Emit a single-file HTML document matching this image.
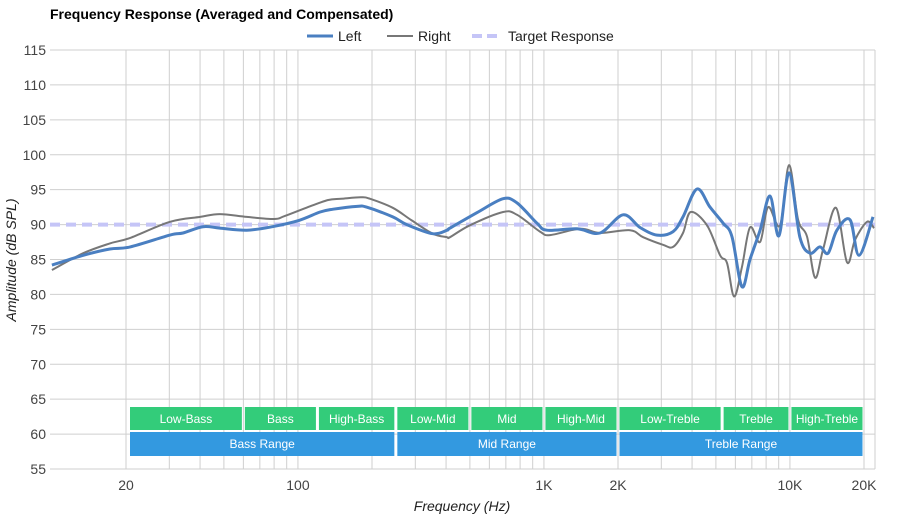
<!DOCTYPE html>
<html><head><meta charset="utf-8"><style>
body{margin:0;background:#fff;font-family:"Liberation Sans",sans-serif;}
svg text{font-family:"Liberation Sans",sans-serif;}
</style></head><body>
<svg id="chart" width="900" height="520" xmlns="http://www.w3.org/2000/svg">
<text x="50" y="19" font-size="14" font-weight="bold" fill="#000">Frequency Response (Averaged and Compensated)</text>
<g>
<g><line x1="307" y1="36" x2="333" y2="36" stroke="#4a7fc1" stroke-width="3"/><text x="338" y="41" font-size="14" fill="#222">Left</text></g>
<g><line x1="387" y1="36" x2="413" y2="36" stroke="#777" stroke-width="2"/><text x="418" y="41" font-size="14" fill="#222">Right</text></g>
<g><line x1="472" y1="36" x2="500" y2="36" stroke="#c5c5f7" stroke-width="4" stroke-dasharray="10,5"/><text x="508" y="41" font-size="14" fill="#222">Target Response</text></g>
</g>
<g id="grid"></g>
<g id="bands"></g>
<g id="series"></g>
<g id="axes"></g>
<text transform="translate(16,260) rotate(-90)" text-anchor="middle" font-size="14" font-style="italic" fill="#222">Amplitude (dB SPL)</text>
<text x="462" y="511" text-anchor="middle" font-size="14" font-style="italic" fill="#222">Frequency (Hz)</text>
</svg>
<script>
const yTicks=[55,60,65,70,75,80,85,90,95,100,105,110,115];
const xGridFreqs=[20,30,40,50,60,70,80,90,100,200,300,400,500,600,700,800,900,1000,2000,3000,4000,5000,6000,7000,8000,9000,10000,20000];
const xTickFreqs=[20,100,1000,2000,10000,20000];
const xTickLabels=["20","100","1K","2K","10K","20K"];
const targetValue=90;
const leftFreqs=[10,13.4,17.2,20.8,30.2,34.1,41.1,48.1,62,78.7,101,123,139,174,190,243,277,353,404,415,534,682,777,937,1028,1362,1690,2096,2456,2885,3350,3676,4190,4730,5350,5810,6380,6880,7560,8300,9020,9910,10980,12060,13240,14290,15520,17540,19100,21760];
const leftValues=[84.2,85.6,86.5,86.8,88.5,88.8,89.7,89.5,89.2,89.7,90.6,91.8,92.2,92.6,92.5,91.1,90,88.7,89.2,89.5,91.7,93.7,93.1,90.2,89.2,89.4,88.8,91.4,89.6,88.5,89.0,91.1,95.1,92.5,90.2,88.3,81.1,85,89.2,94.1,88.4,97.4,88.2,85.9,86.8,85.9,89.2,90.7,85.6,91.1];
const rightFreqs=[10,13.4,17.2,20.8,30.2,40,48.1,62,80,88,108,132,150,180,196,243,290,353,404,415,500,682,777,964,1058,1403,1690,2238,2530,3048,3350,3676,3950,4600,5200,5550,5930,6380,6880,7560,8150,9120,9910,10790,11730,12650,13630,15380,17060,18380,20560,21960];
const rightValues=[83.5,85.9,87.3,88.1,90.4,91.1,91.5,91.1,90.8,91.2,92.4,93.5,93.7,93.9,93.7,92.4,90.6,88.7,88.2,88.2,89.9,91.8,91.4,89.0,88.5,89.4,88.8,89.2,88.2,87.1,86.8,88.8,91.8,89.9,85.6,84.5,79.7,83.9,89.6,87.5,92.5,89.9,98.5,90.7,88.3,82.4,86.4,92.4,84.6,87.8,90.4,89.5];
const bandNames=["Low-Bass","Bass","High-Bass","Low-Mid","Mid","High-Mid","Low-Treble","Treble","High-Treble"];
const bandEdges=[20,60,120,250,500,1000,2000,5300,10000,20000];
const rangeNames=["Bass Range","Mid Range","Treble Range"];
const rangeEdges=[20,250,2000,20000];

const NS="http://www.w3.org/2000/svg";
const L=50,R=875,T=50,B=469;
function xs(f){return 126+246*Math.log10(f/20);}
function ys(v){return T+(115-v)*(B-T)/60;}
function mk(tag,attrs,parent){const e=document.createElementNS(NS,tag);for(const k in attrs)e.setAttribute(k,attrs[k]);parent.appendChild(e);return e;}
const grid=document.getElementById('grid'),axes=document.getElementById('axes'),bands=document.getElementById('bands'),series=document.getElementById('series');
yTicks.forEach(v=>{
 const l=mk('line',{x1:L,x2:R,y1:ys(v),y2:ys(v),stroke:'#cfcfcf','stroke-width':1},grid);
 
 
 const t=mk('text',{x:46,y:ys(v)+5,'text-anchor':'end','font-size':14,fill:'#444'},axes);
 t.textContent=v;
 
 
});
xGridFreqs.forEach(f=>{
 const l=mk('line',{x1:xs(f),x2:xs(f),y1:T,y2:B,stroke:'#cfcfcf','stroke-width':1},grid);
 
 
});
const rl=mk('line',{x1:R,x2:R,y1:T,y2:B,stroke:'#cfcfcf','stroke-width':1},grid);


xTickFreqs.forEach((f,i)=>{
 const t=mk('text',{x:xs(f),y:490,'text-anchor':'middle','font-size':14,fill:'#444'},axes);
 t.textContent=xTickLabels[i];
 
 
});
for(let i=0;i<bandNames.length;i++){
 const x0=xs(bandEdges[i])+(i==0?4:1.5),x1=xs(bandEdges[i+1])-1.5;
 const r=mk('rect',{x:x0,y:407,width:x1-x0,height:23,fill:'#33cc7a'},bands);
 
 
 const t=mk('text',{x:(x0+x1)/2,y:423,'text-anchor':'middle','font-size':12,fill:'#fff'},bands);
 t.textContent=bandNames[i];
 
 
}
for(let i=0;i<rangeNames.length;i++){
 const x0=xs(rangeEdges[i])+(i==0?4:1.5),x1=xs(rangeEdges[i+1])-1.5;
 const r=mk('rect',{x:x0,y:432,width:x1-x0,height:24,fill:'#3399e0'},bands);
 
 
 const t=mk('text',{x:(x0+x1)/2,y:448,'text-anchor':'middle','font-size':12,fill:'#fff'},bands);
 t.textContent=rangeNames[i];
 
 
}
function smooth(fr,vals){
 const p=fr.map((f,i)=>[xs(f),ys(vals[i])]);
 let d='M'+p[0][0].toFixed(1)+','+p[0][1].toFixed(1);
 for(let i=0;i<p.length-1;i++){
  const p0=p[Math.max(0,i-1)],p1=p[i],p2=p[i+1],p3=p[Math.min(p.length-1,i+2)];
  const c1=[p1[0]+(p2[0]-p0[0])/6,p1[1]+(p2[1]-p0[1])/6];
  const c2=[p2[0]-(p3[0]-p1[0])/6,p2[1]-(p3[1]-p1[1])/6];
  d+=' C'+c1.map(n=>n.toFixed(1))+' '+c2.map(n=>n.toFixed(1))+' '+p2.map(n=>n.toFixed(1));
 }
 return d;
}
const tg=mk('line',{x1:L,x2:R,y1:ys(targetValue),y2:ys(targetValue),stroke:'#c5c5f7','stroke-width':4,'stroke-dasharray':'10,6'},series);


const rp=mk('path',{d:smooth(rightFreqs,rightValues),fill:'none',stroke:'#777','stroke-width':2},series);


const lp=mk('path',{d:smooth(leftFreqs,leftValues),fill:'none',stroke:'#4a7fc1','stroke-width':3},series);


</script>
</body></html>
